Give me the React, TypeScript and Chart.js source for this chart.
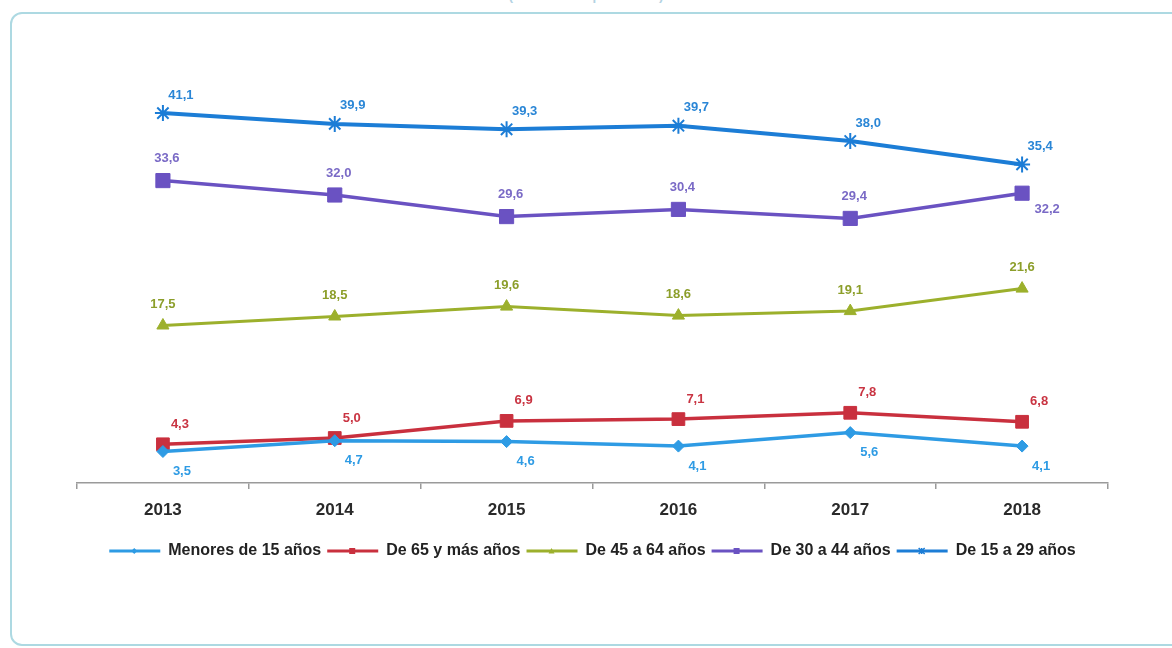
import React, { useEffect, useRef } from "react";
import { Chart, registerables } from "chart.js";

Chart.register(...registerables);

const years = ["2013", "2014", "2015", "2016", "2017", "2018"];
const menores15 = [3.5, 4.7, 4.6, 4.1, 5.6, 4.1];
const de65ymas = [4.3, 5.0, 6.9, 7.1, 7.8, 6.8];
const de45a64 = [17.5, 18.5, 19.6, 18.6, 19.1, 21.6];
const de30a44 = [33.6, 32.0, 29.6, 30.4, 29.4, 32.2];
const de15a29 = [41.1, 39.9, 39.3, 39.7, 38.0, 35.4];
const seriesNames = [
  "Menores de 15 años",
  "De 65 y más años",
  "De 45 a 64 años",
  "De 30 a 44 años",
  "De 15 a 29 años",
];

const FONT = "'Liberation Sans', Arial, sans-serif";

type LabelRule = { color: string; dx: number; dy: number; lastDx?: number; lastDy?: number };

const labelRules: LabelRule[] = [
  { color: "#2E9BE4", dx: 19, dy: 20 },
  { color: "#C93442", dx: 17, dy: -20 },
  { color: "#8C9E2A", dx: 0, dy: -21 },
  { color: "#7A6AC6", dx: 4, dy: -22, lastDx: 25, lastDy: 16 },
  { color: "#2A86D6", dx: 18, dy: -18 },
];

function fmt(v: number) {
  return v.toFixed(1).replace(".", ",");
}

function drawMarker(ctx: CanvasRenderingContext2D, style: string, x: number, y: number, r: number, color: string) {
  ctx.save();
  ctx.fillStyle = color;
  ctx.strokeStyle = color;
  ctx.lineWidth = 1.5;
  ctx.beginPath();
  if (style === "rect") {
    ctx.rect(x - r, y - r, 2 * r, 2 * r);
    ctx.fill();
  } else if (style === "rectRot") {
    ctx.moveTo(x, y - r);
    ctx.lineTo(x + r, y);
    ctx.lineTo(x, y + r);
    ctx.lineTo(x - r, y);
    ctx.closePath();
    ctx.fill();
  } else if (style === "triangle") {
    ctx.moveTo(x, y - r);
    ctx.lineTo(x + r, y + r * 0.8);
    ctx.lineTo(x - r, y + r * 0.8);
    ctx.closePath();
    ctx.fill();
  } else {
    ctx.moveTo(x - r, y - r);
    ctx.lineTo(x + r, y + r);
    ctx.moveTo(x + r, y - r);
    ctx.lineTo(x - r, y + r);
    ctx.moveTo(x, y - r);
    ctx.lineTo(x, y + r);
    ctx.stroke();
  }
  ctx.restore();
}

const dataLabelPlugin = {
  id: "valueLabels",
  afterDatasetsDraw(chart: any) {
    const ctx = chart.ctx as CanvasRenderingContext2D;
    ctx.save();
    ctx.font = `bold 13px ${FONT}`;
    ctx.textAlign = "center";
    ctx.textBaseline = "middle";
    chart.data.datasets.forEach((ds: any, di: number) => {
      const meta = chart.getDatasetMeta(di);
      const rule = labelRules[di];
      meta.data.forEach((pt: any, i: number) => {
        const last = i === meta.data.length - 1;
        const dx = last && rule.lastDx !== undefined ? rule.lastDx : rule.dx;
        const dy = last && rule.lastDy !== undefined ? rule.lastDy : rule.dy;
        ctx.fillStyle = rule.color;
        ctx.fillText(fmt(ds.data[i]), pt.x + dx, pt.y + dy);
      });
    });
    ctx.restore();
  },
};

const legendMarkerPlugin = {
  id: "legendMarkers",
  afterDraw(chart: any) {
    const legend = chart.legend;
    if (!legend || !legend.legendHitBoxes) return;
    const ctx = chart.ctx as CanvasRenderingContext2D;
    legend.legendHitBoxes.forEach((hb: any, i: number) => {
      const ds = chart.data.datasets[i];
      const cx = hb.left + 25;
      const cy = hb.top + hb.height / 2;
      drawMarker(ctx, ds.pointStyle, cx, cy, 3, ds.borderColor);
    });
  },
};

export default function App() {
  const ref = useRef<HTMLCanvasElement | null>(null);

  useEffect(() => {
    if (!ref.current) return;
    const mk = (label: string, data: number[], color: string, style: string, radius: number, bw: number) => ({
      label,
      data,
      borderColor: color,
      backgroundColor: color,
      pointBackgroundColor: color,
      pointBorderColor: color,
      pointStyle: style,
      pointRadius: radius,
      pointBorderWidth: style === "star" ? 2 : 1,
      borderWidth: bw,
      tension: 0,
    });
    const chart = new Chart(ref.current, {
      type: "line",
      data: {
        labels: years,
        datasets: [
          mk(seriesNames[0], menores15, "#2E9BE4", "rectRot", 6, 3.5),
          mk(seriesNames[1], de65ymas, "#C9303E", "rect", 9, 3.5),
          mk(seriesNames[2], de45a64, "#9CB02C", "triangle", 7, 3),
          mk(seriesNames[3], de30a44, "#6A52C2", "rect", 10, 3.5),
          mk(seriesNames[4], de15a29, "#1C7DD6", "star", 8, 4),
        ] as any,
      },
      options: {
        responsive: false,
        animation: false,
        layout: { padding: { top: 78, left: 77, right: 64, bottom: 79 } },
        plugins: {
          legend: {
            position: "bottom",
            labels: {
              boxWidth: 51,
              boxHeight: 3,
              padding: 6,
              color: "#222",
              font: { family: FONT, size: 16, weight: "bold" },
              generateLabels(ch: any) {
                return ch.data.datasets.map((ds: any, i: number) => ({
                  text: ds.label,
                  fillStyle: ds.borderColor,
                  strokeStyle: ds.borderColor,
                  lineWidth: 0,
                  hidden: false,
                  datasetIndex: i,
                  fontColor: "#222",
                }));
              },
            },
          },
          tooltip: { enabled: false },
        },
        scales: {
          x: {
            offset: true,
            grid: {
              offset: true,
              drawOnChartArea: false,
              drawTicks: true,
              tickLength: 6,
              color: "#9a9a9a",
              lineWidth: 1.5,
            },
            border: { display: true, color: "#9a9a9a", width: 1.5 },
            ticks: {
              padding: 11,
              color: "#2a2a2a",
              font: { family: FONT, size: 17, weight: "bold" },
            },
            afterFit(scale: any) {
              scale.height = 54;
            },
          },
          y: {
            display: false,
            min: 0,
            max: 45,
          },
        },
      } as any,
      plugins: [dataLabelPlugin, legendMarkerPlugin],
    });
    return () => chart.destroy();
  }, []);

  return (
    <div style={{ position: "fixed", left: 0, top: 0, width: 1172, height: 648, background: "#fff", overflow: "hidden" }}>
      <div
        style={{
          position: "absolute",
          left: 0,
          width: 1172,
          top: -12,
          textAlign: "center",
          fontFamily: FONT,
          fontSize: 13,
          fontWeight: "bold",
          color: "#b3d2e2",
        }}
      >
        (Distribución porcentual)
      </div>
      <div
        style={{
          position: "absolute",
          left: 10,
          top: 12,
          width: 1190,
          height: 634,
          border: "2px solid #ADD9E2",
          borderRadius: 12,
          boxSizing: "border-box",
        }}
      />
      <canvas ref={ref} width={1172} height={648} style={{ position: "absolute", left: 0, top: 0 }} />
    </div>
  );
}
